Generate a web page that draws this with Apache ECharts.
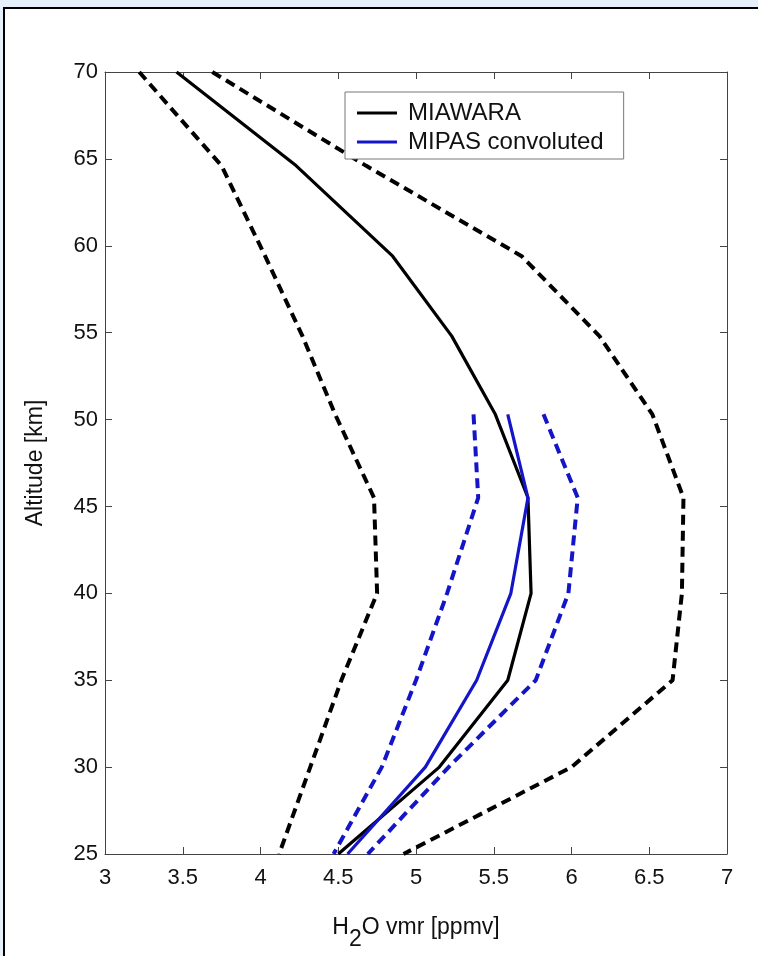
<!DOCTYPE html>
<html>
<head>
<meta charset="utf-8">
<script src="https://cdn.jsdelivr.net/npm/echarts@6/dist/echarts.min.js"></script>
<style>
  html, body { margin: 0; padding: 0; width: 758px; height: 956px; overflow: hidden; background: #e6f0fb; }
  .edge { position: absolute; background: #000; }
  #paper { position: absolute; left: 5px; top: 9px; right: 0; bottom: 0; background: #fff; }
  #chart { position: absolute; left: 0; top: 0; width: 758px; height: 956px; }
</style>
</head>
<body>
<div id="paper"></div>
<div class="edge" style="left:3px; top:7px; right:0; height:2px;"></div>
<div class="edge" style="left:3px; top:7px; width:2px; bottom:0;"></div>
<div id="chart"></div>
<script>
// altitude grids [km]
const altMiawara = [70, 64.6, 59.4, 54.8, 50.3, 45.5, 40, 35, 30, 25]
const altMipas = [50.3, 45.5, 40, 35, 30, 25]

// H2O vmr [ppmv]
const miawara = [3.46, 4.23, 4.85, 5.23, 5.51, 5.72, 5.74, 5.59, 5.15, 4.50]
const miawaraLow = [3.22, 3.75, 4.03, 4.27, 4.48, 4.73, 4.75, 4.52, 4.32, 4.12]
const miawaraHigh = [3.69, 4.68, 5.68, 6.18, 6.52, 6.72, 6.71, 6.65, 6.00, 4.92]
const mipas = [5.59, 5.72, 5.61, 5.39, 5.06, 4.56]
const mipasLow = [5.37, 5.40, 5.20, 5.00, 4.78, 4.47]
const mipasHigh = [5.82, 6.04, 5.98, 5.77, 5.21, 4.69]

const BLACK = '#000'
const BLUE = '#1414c8'
const FONT = 'Liberation Sans, Arial, sans-serif'

const pairs = (xs, alts) => xs.map((v, i) => [v, alts[i]])

const line = (name, xs, alts, color, dashed) => ({
  name,
  type: 'line',
  data: pairs(xs, alts),
  symbol: 'none',
  silent: true,
  lineStyle: {
    color,
    width: dashed ? 4 : 3.2,
    type: dashed ? [10, 6] : 'solid',
  },
  itemStyle: { color },
})

const chart = echarts.init(document.getElementById('chart'))

const xCommon = { type: 'value', min: 3, max: 7, interval: 0.5 }
const yCommon = { type: 'value', min: 25, max: 70, interval: 5 }
const axisLine = { show: true, lineStyle: { color: '#444', width: 1 } }
const axisTick = { show: true, inside: true, length: 7, lineStyle: { color: '#444' } }

chart.setOption({
  backgroundColor: 'transparent',
  animation: false,
  grid: { left: 105, top: 72, width: 622, height: 794 },
  legend: {
    data: ['MIAWARA', 'MIPAS convoluted'],
    orient: 'vertical',
    left: 345,
    top: 92,
    icon: 'rect',
    itemWidth: 40,
    itemHeight: 3,
    itemGap: 3,
    padding: [8, 20, 4, 12],
    backgroundColor: '#fff',
    borderColor: '#777',
    borderWidth: 1,
    textStyle: { fontFamily: FONT, fontSize: 24, color: '#111', lineHeight: 26, padding: [0, 0, 0, 6] },
  },
  xAxis: [
    {
      ...xCommon,
      position: 'bottom',
      axisLine,
      axisTick,
      splitLine: { show: false },
      axisLabel: { fontFamily: FONT, fontSize: 22, color: '#111', margin: 13 },
      name: '{a|H}{b|2}{a|O vmr [ppmv]}',
      nameLocation: 'middle',
      nameGap: 62,
      nameTextStyle: {
        fontFamily: FONT,
        fontSize: 23,
        color: '#111',
        rich: {
          a: { fontFamily: FONT, fontSize: 23, color: '#111', lineHeight: 24, verticalAlign: 'top' },
          b: { fontFamily: FONT, fontSize: 23, color: '#111', lineHeight: 35, verticalAlign: 'bottom' },
        },
      },
    },
    {
      ...xCommon,
      position: 'top',
      axisLine,
      axisTick,
      splitLine: { show: false },
      axisLabel: { show: false },
    },
  ],
  yAxis: [
    {
      ...yCommon,
      position: 'left',
      axisLine,
      axisTick,
      splitLine: { show: false },
      axisLabel: { fontFamily: FONT, fontSize: 22, color: '#111', margin: 7 },
      name: 'Altitude [km]',
      nameLocation: 'middle',
      nameRotate: 90,
      nameGap: 58,
      nameTextStyle: { fontFamily: FONT, fontSize: 23, color: '#111' },
    },
    {
      ...yCommon,
      position: 'right',
      axisLine,
      axisTick,
      splitLine: { show: false },
      axisLabel: { show: false },
    },
  ],
  series: [
    line('MIAWARA', miawara, altMiawara, BLACK, false),
    line('MIAWARA low', miawaraLow, altMiawara, BLACK, true),
    line('MIAWARA high', miawaraHigh, altMiawara, BLACK, true),
    line('MIPAS convoluted', mipas, altMipas, BLUE, false),
    line('MIPAS low', mipasLow, altMipas, BLUE, true),
    line('MIPAS high', mipasHigh, altMipas, BLUE, true),
  ],
})
</script>
</body>
</html>
